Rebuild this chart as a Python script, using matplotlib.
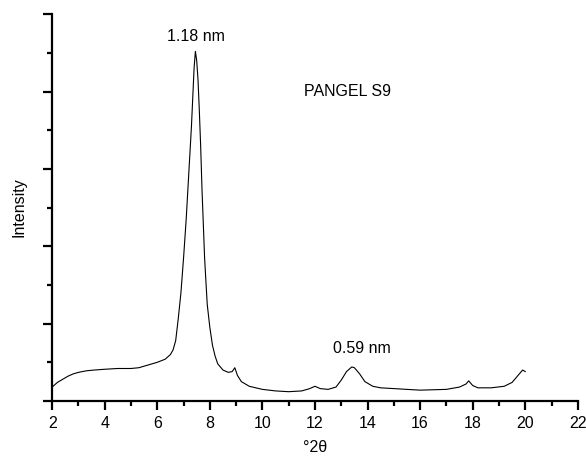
import matplotlib.pyplot as plt

plt.rcParams['font.family'] = ['Liberation Sans', 'DejaVu Sans']

# Diffractogram: degrees 2-theta vs intensity (arb. units)
two_theta = [2.0, 2.2, 2.4, 2.6, 2.8, 3.0, 3.3, 3.6, 4.0, 4.5, 5.0, 5.3, 5.6,
             6.0, 6.3, 6.5, 6.6, 6.7, 6.8, 6.9, 7.0, 7.1, 7.2, 7.3, 7.4, 7.45,
             7.5, 7.55, 7.6, 7.65, 7.7, 7.75, 7.8, 7.9, 8.0, 8.1, 8.2, 8.3,
             8.5, 8.7, 8.85, 8.95, 9.05, 9.2, 9.5, 10.0, 10.5, 11.0, 11.5,
             11.8, 12.0, 12.2, 12.5, 12.8, 13.0, 13.2, 13.4, 13.5, 13.7, 13.9,
             14.2, 14.5, 15.0, 16.0, 17.0, 17.5, 17.75, 17.85, 18.0, 18.2,
             18.7, 19.2, 19.5, 19.7, 19.9, 20.0]
intensity = [0.18, 0.24, 0.28, 0.32, 0.35, 0.37, 0.39, 0.40, 0.41, 0.42, 0.42,
             0.43, 0.46, 0.50, 0.54, 0.60, 0.66, 0.78, 1.07, 1.40, 1.85, 2.35,
             2.95, 3.55, 4.30, 4.52, 4.40, 4.15, 3.75, 3.30, 2.75, 2.30, 1.85,
             1.25, 0.95, 0.72, 0.58, 0.48, 0.40, 0.37, 0.38, 0.43, 0.33, 0.25,
             0.19, 0.15, 0.13, 0.12, 0.13, 0.16, 0.19, 0.16, 0.15, 0.18, 0.27,
             0.38, 0.44, 0.43, 0.35, 0.25, 0.19, 0.17, 0.16, 0.14, 0.15, 0.18,
             0.22, 0.26, 0.20, 0.17, 0.17, 0.19, 0.24, 0.32, 0.40, 0.38]

# peak annotations: (2-theta, intensity, text)
peak_labels = [(7.47, 4.62, '1.18 nm'), (13.8, 0.58, '0.59 nm')]
sample_name = 'PANGEL S9'

fig = plt.figure(figsize=(5.86, 4.58), dpi=100)
ax = fig.add_axes([0.089, 0.1245, 0.897, 0.8445])

ax.plot(two_theta, intensity, color='black', lw=0.8)

for x, y, txt in peak_labels:
    ax.text(x, y, txt, ha='center', va='bottom', fontsize=11.5)
ax.text(11.6, 4.0, sample_name, ha='left', va='center', fontsize=11.5)

ax.set_xlim(2, 22)
ax.set_ylim(0, 5)
ax.set_xticks(range(2, 23, 2))
ax.set_xticks(range(3, 22, 2), minor=True)
ax.set_yticks(range(0, 6))
ax.set_yticks([0.5, 1.5, 2.5, 3.5, 4.5], minor=True)
ax.set_yticklabels([])

ax.spines['top'].set_visible(False)
ax.spines['right'].set_visible(False)
ax.spines['left'].set_linewidth(1.6)
ax.spines['bottom'].set_linewidth(1.6)
ax.tick_params(which='major', direction='out', length=6.5, width=1.6,
               labelsize=11.5, pad=4)
ax.tick_params(which='minor', direction='out', length=3.5, width=1.6)

ax.set_xlabel('°2θ', fontsize=11.5, labelpad=7)
ax.set_ylabel('Intensity', fontsize=11.5, labelpad=8)

fig.savefig('out.png', dpi=100)
